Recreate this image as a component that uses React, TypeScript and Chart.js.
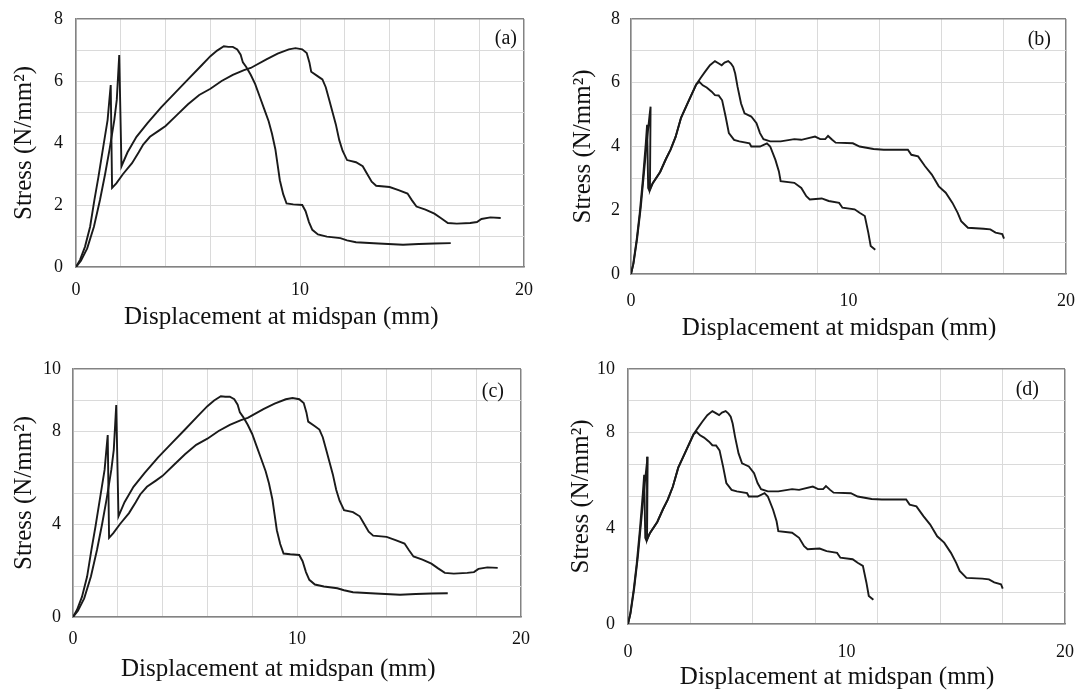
import React, { useEffect, useRef } from 'react';
import { Chart, registerables } from 'chart.js';

Chart.register(...registerables);

type Pt = [number, number];

// ---------- Panel (a): displacement (mm), stress (N/mm²) ----------
const A_CURVE_1: Pt[] = [
  [0, 0], [0.22, 0.2], [0.5, 0.6], [0.8, 1.3], [1.07, 2.16], [1.3, 3.0], [1.5, 3.8], [1.71, 4.74],
  [1.82, 5.39], [1.93, 6.84], [2.03, 3.25], [2.3, 3.7], [2.7, 4.2], [3.2, 4.65], [3.8, 5.15],
  [4.4, 5.6], [5.0, 6.05], [5.6, 6.5], [6.0, 6.8], [6.3, 6.98], [6.6, 7.12], [6.8, 7.1], [7.0, 7.1],
  [7.2, 7.02], [7.35, 6.85], [7.45, 6.6], [7.6, 6.45], [7.8, 6.2], [8.0, 5.9], [8.2, 5.5], [8.4, 5.1],
  [8.6, 4.7], [8.75, 4.3], [8.9, 3.8], [9.0, 3.3], [9.1, 2.8], [9.25, 2.35], [9.4, 2.05], [9.7, 2.02],
  [10.1, 2.0], [10.25, 1.8], [10.4, 1.45], [10.55, 1.2], [10.8, 1.05], [11.2, 0.98], [11.8, 0.93],
  [12.1, 0.86], [12.5, 0.8], [13.5, 0.76], [14.6, 0.72], [15.3, 0.74], [16.0, 0.76], [16.73, 0.77],
];
const A_CURVE_2: Pt[] = [
  [0, 0], [0.18, 0.23], [0.4, 0.65], [0.63, 1.3], [0.82, 2.16], [1.0, 2.9], [1.2, 3.8], [1.41, 4.74],
  [1.49, 5.39], [1.55, 5.87], [1.61, 2.55], [1.8, 2.7], [2.1, 3.0], [2.5, 3.35], [2.8, 3.7], [3.0, 3.95],
  [3.3, 4.2], [3.7, 4.4], [4.0, 4.55], [4.5, 4.9], [5.0, 5.25], [5.5, 5.55], [6.0, 5.75], [6.5, 6.0],
  [7.0, 6.2], [7.5, 6.35], [7.8, 6.42], [8.0, 6.5], [8.5, 6.7], [9.0, 6.88], [9.5, 7.02], [9.8, 7.06],
  [10.1, 7.02], [10.3, 6.9], [10.42, 6.6], [10.5, 6.3], [10.8, 6.15], [11.0, 6.05], [11.15, 5.8],
  [11.3, 5.4], [11.45, 5.0], [11.6, 4.6], [11.75, 4.1], [11.9, 3.75], [12.1, 3.45], [12.5, 3.38],
  [12.8, 3.25], [13.0, 3.0], [13.2, 2.75], [13.4, 2.62], [14.0, 2.58], [14.4, 2.48], [14.8, 2.37],
  [15.0, 2.15], [15.2, 1.95], [15.6, 1.85], [16.0, 1.72], [16.3, 1.57], [16.6, 1.42], [17.0, 1.4],
  [17.6, 1.42], [17.9, 1.45], [18.1, 1.55], [18.5, 1.6], [18.96, 1.58],
];

// ---------- Panel (b) ----------
const B_CURVE_1: Pt[] = [
  [0, 0], [0.1, 0.3], [0.26, 1.07], [0.4, 1.9], [0.55, 3.0], [0.68, 4.1], [0.74, 4.68], [0.79, 2.7],
  [0.84, 2.62], [1.0, 2.85], [1.34, 3.2], [1.6, 3.6], [1.82, 3.9], [2.05, 4.3], [2.3, 4.9], [2.6, 5.35],
  [3.0, 5.95], [3.14, 6.03], [3.3, 5.92], [3.48, 5.85], [3.71, 5.72], [3.86, 5.61], [4.03, 5.6],
  [4.19, 5.45], [4.35, 4.94], [4.5, 4.42], [4.74, 4.21], [4.98, 4.16], [5.45, 4.1], [5.53, 4.0],
  [5.93, 4.0], [6.25, 4.1], [6.4, 4.0], [6.64, 3.58], [6.8, 3.22], [6.88, 2.91], [7.51, 2.86],
  [7.83, 2.7], [8.06, 2.44], [8.22, 2.34], [8.77, 2.37], [9.09, 2.29], [9.57, 2.23], [9.72, 2.08],
  [10.28, 2.03], [10.51, 1.92], [10.75, 1.82], [10.91, 1.3], [11.02, 0.88], [11.23, 0.76],
];
const B_CURVE_2: Pt[] = [
  [0, 0], [0.12, 0.35], [0.28, 1.1], [0.45, 2.1], [0.6, 3.2], [0.75, 4.3], [0.85, 4.95], [0.9, 5.25],
  [0.87, 2.63], [1.0, 2.85], [1.34, 3.2], [1.6, 3.6], [1.82, 3.9], [2.05, 4.3], [2.3, 4.9], [2.6, 5.35],
  [3.0, 5.95], [3.2, 6.15], [3.4, 6.34], [3.63, 6.55], [3.86, 6.68], [4.0, 6.62], [4.17, 6.55],
  [4.3, 6.63], [4.47, 6.68], [4.6, 6.6], [4.7, 6.5], [4.79, 6.29], [4.9, 5.87], [5.06, 5.35],
  [5.22, 5.04], [5.53, 4.94], [5.77, 4.73], [5.93, 4.42], [6.09, 4.23], [6.4, 4.16], [6.88, 4.16],
  [7.51, 4.23], [7.83, 4.21], [8.46, 4.31], [8.7, 4.23], [8.93, 4.23], [9.06, 4.33], [9.25, 4.21],
  [9.41, 4.12], [10.2, 4.1], [10.51, 4.0], [11.15, 3.92], [11.62, 3.9], [12.73, 3.9], [12.89, 3.74],
  [13.2, 3.69], [13.52, 3.38], [13.83, 3.12], [14.15, 2.75], [14.47, 2.55], [14.78, 2.23],
  [15.02, 1.92], [15.18, 1.66], [15.49, 1.45], [16.21, 1.42], [16.52, 1.4], [16.76, 1.3],
  [17.07, 1.25], [17.15, 1.11],
];

// ---------- Panel (c) ----------
const C_CURVE_1: Pt[] = [
  [0, 0], [0.22, 0.25], [0.5, 0.75], [0.8, 1.63], [1.07, 2.7], [1.3, 3.75], [1.5, 4.75], [1.71, 5.93],
  [1.82, 6.74], [1.93, 8.55], [2.03, 4.06], [2.3, 4.63], [2.7, 5.25], [3.2, 5.81], [3.8, 6.44],
  [4.4, 7.0], [5.0, 7.56], [5.6, 8.13], [6.0, 8.5], [6.3, 8.73], [6.6, 8.9], [6.8, 8.88], [7.0, 8.88],
  [7.2, 8.78], [7.35, 8.56], [7.45, 8.25], [7.6, 8.06], [7.8, 7.75], [8.0, 7.38], [8.2, 6.88],
  [8.4, 6.38], [8.6, 5.88], [8.75, 5.38], [8.9, 4.75], [9.0, 4.13], [9.1, 3.5], [9.25, 2.94],
  [9.4, 2.56], [9.7, 2.53], [10.1, 2.5], [10.25, 2.25], [10.4, 1.81], [10.55, 1.5], [10.8, 1.31],
  [11.2, 1.23], [11.8, 1.16], [12.1, 1.08], [12.5, 1.0], [13.5, 0.95], [14.6, 0.9], [15.3, 0.93],
  [16.0, 0.95], [16.73, 0.96],
];
const C_CURVE_2: Pt[] = [
  [0, 0], [0.18, 0.29], [0.4, 0.81], [0.63, 1.63], [0.82, 2.7], [1.0, 3.63], [1.2, 4.75], [1.41, 5.93],
  [1.49, 6.74], [1.55, 7.34], [1.61, 3.19], [1.8, 3.38], [2.1, 3.75], [2.5, 4.19], [2.8, 4.63],
  [3.0, 4.94], [3.3, 5.25], [3.7, 5.5], [4.0, 5.69], [4.5, 6.13], [5.0, 6.56], [5.5, 6.94], [6.0, 7.19],
  [6.5, 7.5], [7.0, 7.75], [7.5, 7.94], [7.8, 8.03], [8.0, 8.13], [8.5, 8.38], [9.0, 8.6], [9.5, 8.78],
  [9.8, 8.83], [10.1, 8.78], [10.3, 8.63], [10.42, 8.25], [10.5, 7.88], [10.8, 7.69], [11.0, 7.56],
  [11.15, 7.25], [11.3, 6.75], [11.45, 6.25], [11.6, 5.75], [11.75, 5.13], [11.9, 4.69], [12.1, 4.31],
  [12.5, 4.23], [12.8, 4.06], [13.0, 3.75], [13.2, 3.44], [13.4, 3.28], [14.0, 3.23], [14.4, 3.1],
  [14.8, 2.96], [15.0, 2.69], [15.2, 2.44], [15.6, 2.31], [16.0, 2.15], [16.3, 1.96], [16.6, 1.78],
  [17.0, 1.75], [17.6, 1.78], [17.9, 1.81], [18.1, 1.94], [18.5, 2.0], [18.96, 1.98],
];

// ---------- Panel (d) ----------
const D_CURVE_1: Pt[] = [
  [0, 0], [0.1, 0.38], [0.26, 1.34], [0.4, 2.38], [0.55, 3.75], [0.68, 5.13], [0.74, 5.85], [0.79, 3.38],
  [0.84, 3.28], [1.0, 3.56], [1.34, 4.0], [1.6, 4.5], [1.82, 4.88], [2.05, 5.38], [2.3, 6.13],
  [2.6, 6.69], [3.0, 7.44], [3.14, 7.54], [3.3, 7.4], [3.48, 7.31], [3.71, 7.15], [3.86, 7.01],
  [4.03, 7.0], [4.19, 6.81], [4.35, 6.18], [4.5, 5.53], [4.74, 5.26], [4.98, 5.2], [5.45, 5.13],
  [5.53, 5.0], [5.93, 5.0], [6.25, 5.13], [6.4, 5.0], [6.64, 4.48], [6.8, 4.03], [6.88, 3.64],
  [7.51, 3.58], [7.83, 3.38], [8.06, 3.05], [8.22, 2.93], [8.77, 2.96], [9.09, 2.86], [9.57, 2.79],
  [9.72, 2.6], [10.28, 2.54], [10.51, 2.4], [10.75, 2.28], [10.91, 1.63], [11.02, 1.1], [11.23, 0.95],
];
const D_CURVE_2: Pt[] = [
  [0, 0], [0.12, 0.44], [0.28, 1.38], [0.45, 2.63], [0.6, 4.0], [0.75, 5.38], [0.85, 6.19], [0.9, 6.56],
  [0.87, 3.29], [1.0, 3.56], [1.34, 4.0], [1.6, 4.5], [1.82, 4.88], [2.05, 5.38], [2.3, 6.13],
  [2.6, 6.69], [3.0, 7.44], [3.2, 7.69], [3.4, 7.93], [3.63, 8.19], [3.86, 8.35], [4.0, 8.28],
  [4.17, 8.19], [4.3, 8.29], [4.47, 8.35], [4.6, 8.25], [4.7, 8.13], [4.79, 7.86], [4.9, 7.34],
  [5.06, 6.69], [5.22, 6.3], [5.53, 6.18], [5.77, 5.91], [5.93, 5.53], [6.09, 5.29], [6.4, 5.2],
  [6.88, 5.2], [7.51, 5.29], [7.83, 5.26], [8.46, 5.39], [8.7, 5.29], [8.93, 5.29], [9.06, 5.41],
  [9.25, 5.26], [9.41, 5.15], [10.2, 5.13], [10.51, 5.0], [11.15, 4.9], [11.62, 4.88], [12.73, 4.88],
  [12.89, 4.68], [13.2, 4.61], [13.52, 4.23], [13.83, 3.9], [14.15, 3.44], [14.47, 3.19],
  [14.78, 2.79], [15.02, 2.4], [15.18, 2.08], [15.49, 1.81], [16.21, 1.78], [16.52, 1.75],
  [16.76, 1.63], [17.07, 1.56], [17.15, 1.39],
];

// ---------- Axes / ticks / text ----------
const X_GRID_AC = [0, 2, 4, 6, 8, 10, 12, 14, 16, 18, 20];
const X_GRID_BD = [0, 2.857, 5.714, 8.571, 11.429, 14.286, 17.143, 20];
const X_TICK_LABELS = [0, 10, 20];
const Y_GRID_AB = [0, 1, 2, 3, 4, 5, 6, 7, 8];
const Y_LABELS_AB: [number, string][] = [[0, '0'], [2, '2'], [4, '4'], [6, '6'], [8, '8']];
const Y_GRID_CD = [0, 1.25, 2.5, 3.75, 5, 6.25, 7.5, 8.75, 10];
const Y_LABELS_CD: [number, string][] = [[0, '0'], [3.75, '4'], [7.5, '8'], [10, '10']];
const X_TITLE = 'Displacement at midspan (mm)';
const Y_TITLE = 'Stress (N/mm²)';
const PANEL_TAGS = ['(a)', '(b)', '(c)', '(d)'];

// ---------- Styling / layout ----------
const FONT = "'Liberation Serif', 'Times New Roman', serif";
const TEXT = '#111111';
const LINE = '#1a1a1a';
const GRID = '#dadada';
const BORDER = '#838383';

interface Panel {
  tag: string;
  box: { left: number; top: number; w: number; h: number };
  yAxisW: number; padTop: number; padRight: number; xAxisH: number;
  yTickPad: number; xTickPad: number; yTitlePad: number; xTitlePad: number;
  xTitleShift: number; // trailing no-break spaces that move the centred title left
  tagDx: number; tagDy: number;
  xGrid: number[]; yGrid: number[]; yLabels: [number, string][]; yMax: number;
  series: Pt[][];
}

const PANELS: Panel[] = [
  {
    tag: PANEL_TAGS[0], box: { left: 0, top: 0, w: 540, h: 345 },
    yAxisW: 76, padTop: 19, padRight: 16, xAxisH: 78,
    yTickPad: 13, xTickPad: 12, yTitlePad: 12, xTitlePad: 15.5, xTitleShift: 6, tagDx: 7, tagDy: 19.5,
    xGrid: X_GRID_AC, yGrid: Y_GRID_AB, yLabels: Y_LABELS_AB, yMax: 8,
    series: [A_CURVE_1, A_CURVE_2],
  },
  {
    tag: PANEL_TAGS[1], box: { left: 540, top: 0, w: 538, h: 345 },
    yAxisW: 91, padTop: 19, padRight: 12, xAxisH: 71,
    yTickPad: 11, xTickPad: 16, yTitlePad: 31, xTitlePad: 4.5, xTitleShift: 3, tagDx: 15, tagDy: 20.5,
    xGrid: X_GRID_BD, yGrid: Y_GRID_AB, yLabels: Y_LABELS_AB, yMax: 8,
    series: [B_CURVE_1, B_CURVE_2],
  },
  {
    tag: PANEL_TAGS[2], box: { left: 0, top: 345, w: 540, h: 345 },
    yAxisW: 73, padTop: 24, padRight: 19, xAxisH: 73,
    yTickPad: 12, xTickPad: 11, yTitlePad: 12, xTitlePad: 8, xTitleShift: 6, tagDx: 17, tagDy: 23,
    xGrid: X_GRID_AC, yGrid: Y_GRID_CD, yLabels: Y_LABELS_CD, yMax: 10,
    series: [C_CURVE_1, C_CURVE_2],
  },
  {
    tag: PANEL_TAGS[3], box: { left: 540, top: 345, w: 538, h: 345 },
    yAxisW: 88, padTop: 24, padRight: 13, xAxisH: 66,
    yTickPad: 13, xTickPad: 17, yTitlePad: 28.5, xTitlePad: 0.5, xTitleShift: 3, tagDx: 26, tagDy: 21,
    xGrid: X_GRID_BD, yGrid: Y_GRID_CD, yLabels: Y_LABELS_CD, yMax: 10,
    series: [D_CURVE_1, D_CURVE_2],
  },
];

const near = (a: number, b: number) => Math.abs(a - b) < 1e-6;

const tagPlugin = {
  id: 'panelTag',
  afterDraw(chart: any, _args: any, opts: any) {
    const { ctx, chartArea } = chart;
    ctx.save();
    ctx.font = `20px ${FONT}`;
    ctx.fillStyle = TEXT;
    ctx.textAlign = 'right';
    ctx.textBaseline = 'middle';
    ctx.fillText(opts.text, chartArea.right - opts.dx, chartArea.top + opts.dy);
    ctx.restore();
  },
};

function makeConfig(p: Panel): any {
  const xTicks = Array.from(new Set([...p.xGrid, ...X_TICK_LABELS])).sort((a, b) => a - b);
  const isGridX = (v: number) => p.xGrid.some((g) => near(g, v));
  return {
    type: 'line',
    data: {
      datasets: p.series.map((s) => ({
        data: s.map(([x, y]) => ({ x, y })),
        borderColor: LINE,
        borderWidth: 1.9,
        pointRadius: 0,
        tension: 0,
        fill: false,
      })),
    },
    options: {
      responsive: false,
      animation: false,
      events: [],
      layout: { padding: { left: 0, top: p.padTop, right: p.padRight, bottom: 0 } },
      plugins: {
        legend: { display: false },
        tooltip: { enabled: false },
        panelTag: { text: p.tag, dx: p.tagDx, dy: p.tagDy },
      },
      scales: {
        x: {
          type: 'linear',
          min: 0,
          max: 20,
          afterBuildTicks: (s: any) => { s.ticks = xTicks.map((v) => ({ value: v })); },
          afterFit: (s: any) => { s.height = p.xAxisH; s.paddingLeft = 0; s.paddingRight = 0; },
          grid: {
            drawTicks: false,
            color: (c: any) => {
              const v = c.tick ? c.tick.value : 0;
              if (!isGridX(v)) return 'rgba(0,0,0,0)';
              return near(v, 20) ? BORDER : GRID;
            },
            lineWidth: (c: any) => (c.tick && near(c.tick.value, 20) ? 1.5 : 1),
          },
          border: { color: BORDER, width: 1.5 },
          ticks: {
            autoSkip: false,
            maxRotation: 0,
            padding: p.xTickPad,
            color: TEXT,
            font: { family: FONT, size: 18 },
            callback: (v: number) => (X_TICK_LABELS.some((t) => near(t, v)) ? String(v) : ''),
          },
          title: {
            display: true,
            text: X_TITLE + '\u00A0'.repeat(p.xTitleShift),
            color: TEXT,
            font: { family: FONT, size: 25, lineHeight: 1 },
            padding: { top: 0, bottom: p.xTitlePad },
          },
        },
        y: {
          type: 'linear',
          min: 0,
          max: p.yMax,
          afterBuildTicks: (s: any) => { s.ticks = p.yGrid.map((v) => ({ value: v })); },
          afterFit: (s: any) => { s.width = p.yAxisW; s.paddingTop = 0; s.paddingBottom = 0; },
          grid: {
            drawTicks: false,
            color: (c: any) => (c.tick && near(c.tick.value, p.yMax) ? BORDER : GRID),
            lineWidth: (c: any) => (c.tick && near(c.tick.value, p.yMax) ? 1.5 : 1),
          },
          border: { color: BORDER, width: 1.5 },
          ticks: {
            autoSkip: false,
            padding: p.yTickPad,
            color: TEXT,
            font: { family: FONT, size: 18 },
            callback: (v: number) => {
              const hit = p.yLabels.find(([val]) => near(val, v));
              return hit ? hit[1] : '';
            },
          },
          title: {
            display: true,
            text: Y_TITLE,
            color: TEXT,
            font: { family: FONT, size: 25, lineHeight: 1 },
            padding: { top: p.yTitlePad, bottom: 0 },
          },
        },
      },
    },
    plugins: [tagPlugin],
  };
}

function PanelChart({ panel }: { panel: Panel }) {
  const ref = useRef<HTMLCanvasElement | null>(null);
  useEffect(() => {
    if (!ref.current) return;
    const chart = new Chart(ref.current, makeConfig(panel));
    return () => chart.destroy();
  }, [panel]);
  const { left, top, w, h } = panel.box;
  return (
    <canvas
      ref={ref}
      width={w}
      height={h}
      style={{ position: 'absolute', left, top, width: w, height: h }}
    />
  );
}

export default function App() {
  return (
    <div
      style={{
        position: 'fixed',
        left: 0,
        top: 0,
        width: 1078,
        height: 690,
        background: '#ffffff',
        overflow: 'hidden',
      }}
    >
      {PANELS.map((p) => (
        <PanelChart key={p.tag} panel={p} />
      ))}
    </div>
  );
}
